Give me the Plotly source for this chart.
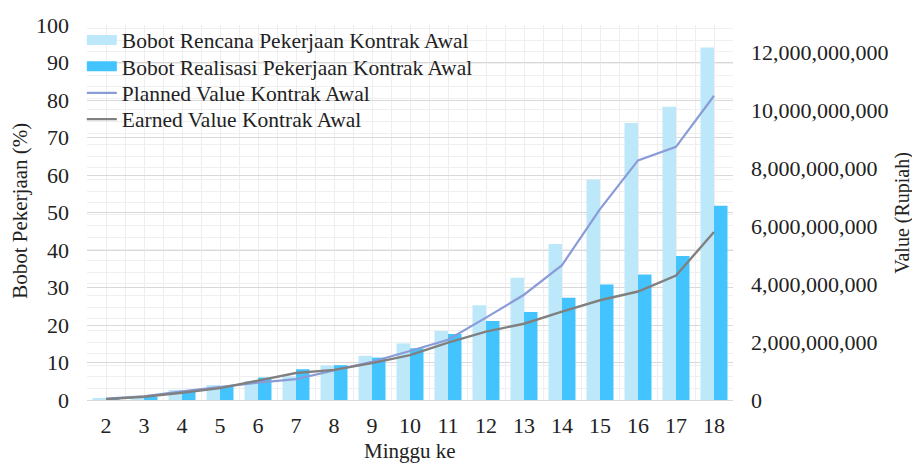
import plotly.graph_objects as go

# Week numbers on the x axis
minggu = list(range(2, 19))

# Weekly progress weight (%)
bobot_rencana = [0.4, 1.1, 2.7, 4.0, 5.1, 6.3, 9.2, 11.8, 15.1, 18.4, 25.3, 32.6, 41.6, 58.8, 73.9, 78.2, 94.0]
bobot_realisasi = [0.1, 0.9, 2.2, 3.6, 6.0, 8.2, 9.3, 11.3, 13.8, 17.6, 21.1, 23.5, 27.3, 30.8, 33.5, 38.4, 51.8]

# Cumulative values (Rupiah)
planned_value = [50e6, 130e6, 300e6, 450e6, 600e6, 720e6, 1.02e9, 1.32e9, 1.69e9, 2.08e9,
                 2.84e9, 3.63e9, 4.65e9, 6.58e9, 8.26e9, 8.73e9, 10.49e9]
earned_value = [30e6, 110e6, 250e6, 410e6, 670e6, 930e6, 1.04e9, 1.27e9, 1.55e9, 1.98e9,
                2.36e9, 2.63e9, 3.05e9, 3.44e9, 3.74e9, 4.29e9, 5.79e9]

rp_ticks = [0, 2e9, 4e9, 6e9, 8e9, 10e9, 12e9]

LIGHT = "#BDE8FA"
DARK = "#43C4FE"
PV_COLOR = "#8A9CD8"
EV_COLOR = "#808080"
FONT = "Times New Roman, Tinos, DejaVu Serif, serif"
TXT = "#222222"

fig = go.Figure()

fig.add_trace(go.Bar(x=minggu, y=bobot_rencana, marker_color=LIGHT, marker_line_width=0,
                     name="Bobot Rencana Pekerjaan Kontrak Awal", showlegend=False))
fig.add_trace(go.Bar(x=minggu, y=bobot_realisasi, marker_color=DARK, marker_line_width=0,
                     name="Bobot Realisasi Pekerjaan Kontrak Awal", showlegend=False))
fig.add_trace(go.Scatter(x=minggu, y=planned_value, yaxis="y2", mode="lines",
                         line=dict(color=PV_COLOR, width=2.2), showlegend=False))
fig.add_trace(go.Scatter(x=minggu, y=earned_value, yaxis="y2", mode="lines",
                         line=dict(color=EV_COLOR, width=2.4), showlegend=False))

# Legend entries: one legend per row so the row spacing can be set exactly
legend_items = [
    ("Bobot Rencana Pekerjaan Kontrak Awal", LIGHT, 10, "legend", 0.960),
    ("Bobot Realisasi Pekerjaan Kontrak Awal", DARK, 10, "legend2", 0.890),
    ("Planned Value Kontrak Awal", PV_COLOR, 2.2, "legend3", 0.819),
    ("Earned Value Kontrak Awal", EV_COLOR, 2.4, "legend4", 0.749),
]
legend_layout = {}
for name, color, width, lg, ypos in legend_items:
    fig.add_trace(go.Scatter(x=[None], y=[None], mode="lines", name=name, legend=lg,
                             line=dict(color=color, width=width)))
    legend_layout[lg] = dict(x=-0.008, y=ypos, xanchor="left", yanchor="middle",
                             bgcolor="rgba(0,0,0,0)", borderwidth=0,
                             font=dict(family=FONT, size=21.5, color=TXT),
                             itemwidth=30)

# Axis titles placed as annotations
axis_titles = [
    dict(text="Minggu ke", x=0.5, y=-0.135, textangle=0, size=21),
    dict(text="Bobot Pekerjaan (%)", x=-0.104, y=0.504, textangle=-90, size=21),
    dict(text="Value (Rupiah)", x=1.263, y=0.499, textangle=-90, size=20),
]

fig.update_layout(
    width=912, height=463,
    margin=dict(l=87, r=179, t=25, b=63),
    paper_bgcolor="white", plot_bgcolor="white",
    font=dict(family=FONT, size=22, color=TXT),
    barmode="group", bargap=0.29, bargroupgap=0,
    showlegend=True,
    **legend_layout,
    annotations=[
        dict(text=t["text"], x=t["x"], y=t["y"], xref="paper", yref="paper",
             xanchor="center", yanchor="middle", textangle=t["textangle"],
             showarrow=False, font=dict(family=FONT, size=t["size"], color=TXT))
        for t in axis_titles
    ],
    xaxis=dict(
        range=[1.5, 18.5], tickmode="array", tickvals=minggu,
        ticktext=[str(m) for m in minggu], ticks="", ticklabelstandoff=6,
        showgrid=True, gridcolor="#EEEEEE", gridwidth=1,
        minor=dict(dtick=0.5, tick0=1.5, showgrid=True, gridcolor="#EEEEEE", gridwidth=1),
        showline=True, linecolor="#D9D9D9", linewidth=1,
        zeroline=False, automargin=False,
    ),
    yaxis=dict(
        range=[0, 100], dtick=10, tick0=0, ticks="", ticklabelstandoff=17,
        showgrid=True, gridcolor="#D9D9D9", gridwidth=1,
        zeroline=False, showline=False, automargin=False,
    ),
    yaxis2=dict(
        overlaying="y", side="right", range=[0, 12.93e9],
        tickmode="array", tickvals=rp_ticks, tickformat=",d",
        ticks="", ticklabelstandoff=17,
        showgrid=False,
        minor=dict(dtick=4e8, tick0=0, showgrid=True, gridcolor="#EFEFEF", gridwidth=1),
        zeroline=False, showline=False, automargin=False,
    ),
)

fig.write_html("out.html")
